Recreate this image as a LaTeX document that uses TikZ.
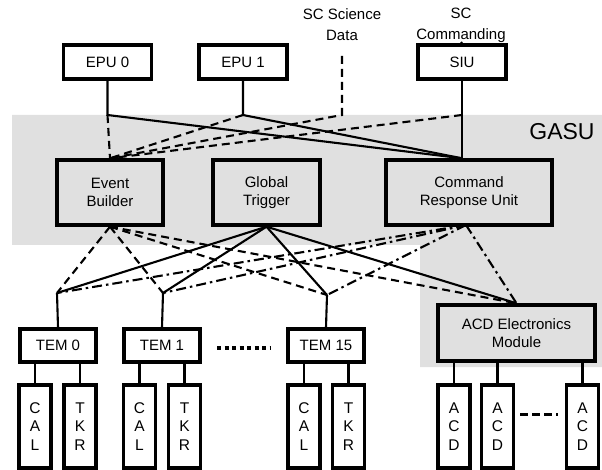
\documentclass[tikz,border=0pt]{standalone}
\usepackage{fontspec}
\setmainfont{Liberation Sans}
\usepackage{tikz}
\usetikzlibrary{positioning,calc}
\definecolor{gasugray}{RGB}{224,224,224}
\tikzset{
	box/.style={draw, line width=3.4pt, minimum width=88pt, minimum height=34pt, inner sep=0pt, align=center, font=\fontsize{15}{18}\selectfont},
	unit/.style={box, fill=gasugray, minimum height=65pt},
	tem/.style={box, minimum width=76pt, minimum height=33pt},
	leaf/.style={box, minimum width=32pt, minimum height=83pt, font=\fontsize{15.5}{18.5}\selectfont},
	link/.style={line width=2.1pt},
	dlink/.style={line width=2.1pt, dash pattern=on 8pt off 5pt},
	dclink/.style={line width=2.1pt, dash pattern=on 10pt off 4pt on 2.5pt off 4pt},
}
\begin{document}
\begin{tikzpicture}[x=1pt,y=-1pt]
		\useasboundingbox (0,0) rectangle (602,470);
		% GASU area
		\fill [gasugray] (12,115) -- (602,115) -- (602,367) -- (420,367) -- (420,245) -- (12,245) -- cycle;
		\node [font=\fontsize{23}{26}\selectfont] (gasu) at (562,132) {GASU};
		% outside
		\node [box] (epu0) at (107.5,62) {EPU 0};
		\node [box] (epu1) at (243,62) {EPU 1};
		\node [box] (siu) at (462,62) {SIU};
		\node [align=center, inner sep=0pt, font=\fontsize{15}{21}\selectfont] (sci) at (342,25) {SC Science\\Data};
		\node [align=center, inner sep=0pt, font=\fontsize{15}{21}\selectfont] (cmd) at (461,25) {SC\\Commanding};
		% GASU units
		\node [unit, minimum width=106pt] (eb) at (110,192.5) {Event\\Builder};
		\node [unit, minimum width=107pt] (gt) at (266.5,192.5) {Global\\Trigger};
		\node [unit, minimum width=166pt] (cru) at (469,192.5) {Command\\Response Unit};
		% TEMs
		\node [tem] (tem0) at (58,345.5) {TEM 0};
		\node [tem] (tem1) at (162,345.5) {TEM 1};
		\node [tem] (tem15) at (326,345.5) {TEM 15};
		\node [leaf] (cal0) at (35,426.5) {C\\A\\L};
		\node [leaf] (tkr0) at (80,426.5) {T\\K\\R};
		\node [leaf] (cal1) at (139.5,426.5) {C\\A\\L};
		\node [leaf] (tkr1) at (184.5,426.5) {T\\K\\R};
		\node [leaf] (cal15) at (304,426.5) {C\\A\\L};
		\node [leaf] (tkr15) at (348.5,426.5) {T\\K\\R};
		% ACD
		\node [unit, minimum width=157pt, minimum height=56pt] (aem) at (516.5,333) {ACD Electronics\\Module};
		\node [leaf] (acd0) at (454,426.5) {A\\C\\D};
		\node [leaf] (acd1) at (497.5,426.5) {A\\C\\D};
		\node [leaf] (acdn) at (582.5,426.5) {A\\C\\D};
		% junctions
		\coordinate (j0) at (epu0.south |- 0,115);
		\coordinate (j1) at (epu1.south |- 0,115);
		\coordinate (jsci) at (342,115);
		\coordinate (jsiu) at (siu.south |- 0,115);
		\coordinate (scitop) at (342,56);
		\coordinate (cmdbot) at (461,42);
		\coordinate (crutop) at (cru.north -| siu.south);
		\coordinate (crubot) at (466,225);
		\coordinate (t0) at (57,293);
		\coordinate (t1) at (163,293);
		\coordinate (t15) at (327,295);
		% top links
		\draw [link] (epu0.south) -- (j0) -- (crutop);
		\draw [link] (epu1.south) -- (j1) -- (crutop);
		\draw [link] (cmdbot) -- (siu.north);
		\draw [link] (siu.south) -- (crutop);
		\draw [dlink] (j0) -- (eb.north);
		\draw [dlink] (j1) -- (eb.north);
		\draw [dlink] (scitop) -- (jsci) -- (eb.north);
		\draw [dlink] (jsiu) -- (eb.north);
		% lower links
		\draw [dlink] (eb.south) -- (t0);
		\draw [dlink] (eb.south) -- (t1);
		\draw [dlink] (eb.south) -- (t15);
		\draw [dlink] (eb.south) -- (aem.north);
		\draw [link] (gt.south) -- (t0);
		\draw [link] (gt.south) -- (t1);
		\draw [link] (gt.south) -- (t15);
		\draw [link] (gt.south) -- (aem.north);
		\draw [dclink] (crubot) -- (t0);
		\draw [dclink] (crubot) -- (t1);
		\draw [dclink] (crubot) -- (t15);
		\draw [dclink] (crubot) -- (aem.north);
		\draw [link] (t0) -- (tem0.north);
		\draw [link] (t1) -- (tem1.north);
		\draw [link] (t15) -- (tem15.north);
		% TEM to CAL / TKR
		\draw [link] (tem0.south -| cal0) -- (cal0);
		\draw [link] (tem0.south -| tkr0) -- (tkr0);
		\draw [link] (tem1.south -| cal1) -- (cal1);
		\draw [link] (tem1.south -| tkr1) -- (tkr1);
		\draw [link] (tem15.south -| cal15) -- (cal15);
		\draw [link] (tem15.south -| tkr15) -- (tkr15);
		\draw [link] (aem.south -| acd0) -- (acd0);
		\draw [link] (aem.south -| acd1) -- (acd1);
		\draw [link] (aem.south -| acdn) -- (acdn);
		% ellipses
		\draw [line width=4pt, dash pattern=on 4pt off 3.5pt] (217,348) -- (270,348);
		\draw [line width=3pt, dash pattern=on 8pt off 4pt] (520,414) -- (558,414);
		\end{tikzpicture}
\end{document}
